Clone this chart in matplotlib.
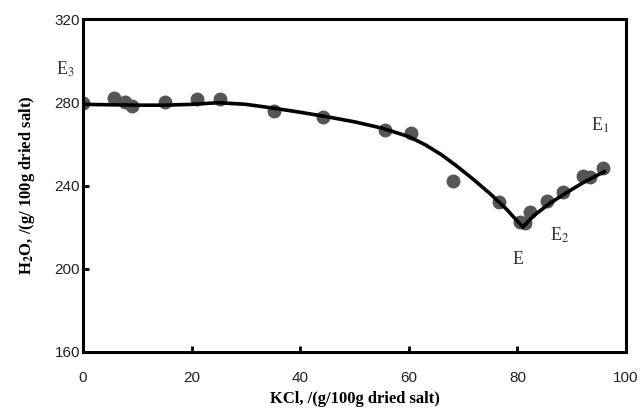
import matplotlib.pyplot as plt

plt.rcParams["mathtext.fontset"] = "stix"

# experimental points
kcl = [0, 5.7, 7.7, 9.0, 15.1, 21.0, 25.2, 35.2, 44.2, 55.6, 60.4, 68.1, 76.6,
       80.5, 81.4, 82.3, 85.5, 88.4, 92.1, 93.4, 95.8]
water = [279.6, 282.0, 280.0, 278.2, 280.3, 281.8, 281.8, 275.6, 273.0, 266.5, 265.0,
         242.2, 232.1, 222.5, 222.0, 227.3, 232.5, 236.9, 244.5, 244.0, 248.4]

# fitted curve
curve_x = [0, 5, 10, 15, 20, 25, 30, 35, 40, 45, 50, 55, 60, 63, 66, 69, 72, 75, 78, 81,
           83, 86, 89, 92, 94, 96]
curve_y = [279.0, 278.8, 278.6, 278.6, 279.0, 279.8, 279.0, 277.2, 275.2, 273.0, 270.6,
           267.6, 263.5, 259.6, 254.8, 249.0, 242.7, 236.0, 228.6, 220.0,
           225.5, 231.5, 236.5, 241.2, 244.0, 246.6]

labels = ["E$_{3}$", "E$_{1}$", "E$_{2}$", "E"]
label_x = [-3.3, 95.2, 87.8, 80.1]
label_y = [296.0, 269.0, 216.0, 204.5]

fig = plt.figure(figsize=(6.41, 4.17), dpi=100)
ax = fig.add_axes([0.1295, 0.1559, 0.8471, 0.7985])

ax.plot(kcl, water, "o", color="#555555", markersize=9, zorder=2)
ax.plot(curve_x, curve_y, color="black", linewidth=2.6, zorder=3)

for t, lx, ly in zip(labels, label_x, label_y):
    ax.text(lx, ly, t, family="Liberation Serif", fontsize=13, color="#333333",
            ha="center", va="center")

ax.set_xlim(0, 100)
ax.set_ylim(160, 320)
ax.set_xticks([0, 20, 40, 60, 80, 100])
ax.set_yticks([160, 200, 240, 280, 320])
for s in ax.spines.values():
    s.set_linewidth(2.2)
ax.tick_params(direction="in", length=4, width=2)
ax.tick_params(axis="x", pad=14)
ax.tick_params(axis="y", pad=2)
for lab in ax.get_xticklabels() + ax.get_yticklabels():
    lab.set_family("Liberation Sans")
    lab.set_fontsize(11)
    lab.set_color("#222222")

ax.set_xlabel("KCl, /(g/100g dried salt)", family="Liberation Serif", fontweight="bold",
              fontsize=12, labelpad=4)
ax.set_ylabel("H$_\\mathbf{2}$O, /(g/ 100g dried salt)", family="Liberation Serif",
              fontweight="bold", fontsize=12)
ax.yaxis.set_label_coords(-0.085, 0.5)

fig.savefig("out.png", dpi=100)
